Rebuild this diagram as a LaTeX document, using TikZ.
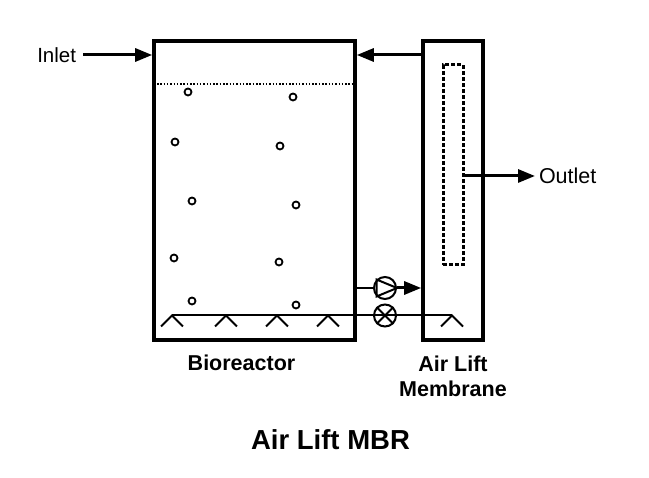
\documentclass[tikz,border=0pt]{standalone}
\usepackage{fontspec}
\setmainfont{Liberation Sans}
\usetikzlibrary{arrows.meta}

\tikzset{
  tank/.style={draw, line width=3.6pt, inner sep=0pt},
  flow/.style={line width=3pt, -{Triangle[length=17pt, width=13pt]}},
  bubble/.style={draw, circle, line width=1.8pt, minimum size=7pt, inner sep=0pt},
  machine/.style={draw, circle, line width=2pt, minimum size=22pt, inner sep=0pt, fill=white},
  label/.style={align=center, inner sep=0pt},
  plain/.style={font=\fontsize{20.5}{25}\selectfont, inner sep=0pt},
}

\begin{document}
\begin{tikzpicture}[x=1pt, y=-1pt, line width=2pt]
  \useasboundingbox (0,0) rectangle (649,478);
  % tanks
  \node[tank, minimum width=201pt, minimum height=299pt] (bioreactor) at (254.5,190.5) {};
  \node[tank, minimum width=60pt, minimum height=299pt] (airlift) at (453,190.5) {};
  \node[draw, line width=3pt, dash pattern=on 4pt off 2pt, minimum width=20pt, minimum height=200pt, inner sep=0pt] (membrane) at (453,165) {};
  % water level
  \coordinate (levelL) at (157,84);
  \coordinate (levelR) at (352,84);
  \draw[line width=1.4pt, dash pattern=on 1.5pt off 1.8pt] (levelL) -- (levelR);
  % bubbles
  \foreach \x/\y [count=\i] in {188/92, 293/97, 175/142, 280/146, 192/201, 296/205, 174/258, 279/262, 192/301, 296/305}
    \node[bubble] (bubble\i) at (\x,\y) {};
  % pump and blower
  \node[machine] (pump) at (385,288) {};
  \node[machine] (blower) at (385,315.5) {};
  % air line
  \coordinate (airL) at (172,315.5);
  \coordinate (airR) at (452,315.5);
  \draw (airL) -- (blower);
  \draw (blower) -- (airR);
  \foreach \x [count=\i] in {172,226,277,328,452} {
    \coordinate (apex\i) at (\x,315.5);
    \draw (\x-11,326.5) -- (apex\i) -- (\x+11,326.5);
  }
  % symbols inside the pump and blower
  \draw (pump.north west) -- (pump.east) -- (pump.south west) -- cycle;
  \draw (blower.north west) -- (blower.south east);
  \draw (blower.north east) -- (blower.south west);
  \draw (blower.west) -- (blower.east);
  % labels
  \node[plain, anchor=east] (inlet) at (77,55) {Inlet};
  \node[plain, anchor=west, font=\fontsize{21.5}{25}\selectfont] (outlet) at (538,176) {Outlet};
  \node[label, font=\bfseries\fontsize{21.5}{25}\selectfont] (bioname) at (241.5,363) {Bioreactor};
  \node[label, font=\bfseries\fontsize{21.5}{25}\selectfont] (liftname) at (453,376) {Air Lift\\Membrane};
  \node[label, font=\bfseries\fontsize{27.5}{32}\selectfont] (title) at (330.5,440) {Air Lift MBR};
  % streams
  \draw[flow] ([xshift=6pt]inlet.east) -- (bioreactor.west |- inlet.east);
  \coordinate (returnR) at (airlift.west |- inlet.east);
  \draw[flow] (returnR) -- (bioreactor.east |- returnR);
  \coordinate (outletL) at (membrane.east |- outlet.west);
  \draw[flow] (outletL) -- ([xshift=-3pt]outlet.west);
  \draw[line width=2.6pt] (bioreactor.east |- pump.west) -- (pump.west);
  \draw[flow] (pump.east) -- (airlift.west |- pump.east);
\end{tikzpicture}
\end{document}
